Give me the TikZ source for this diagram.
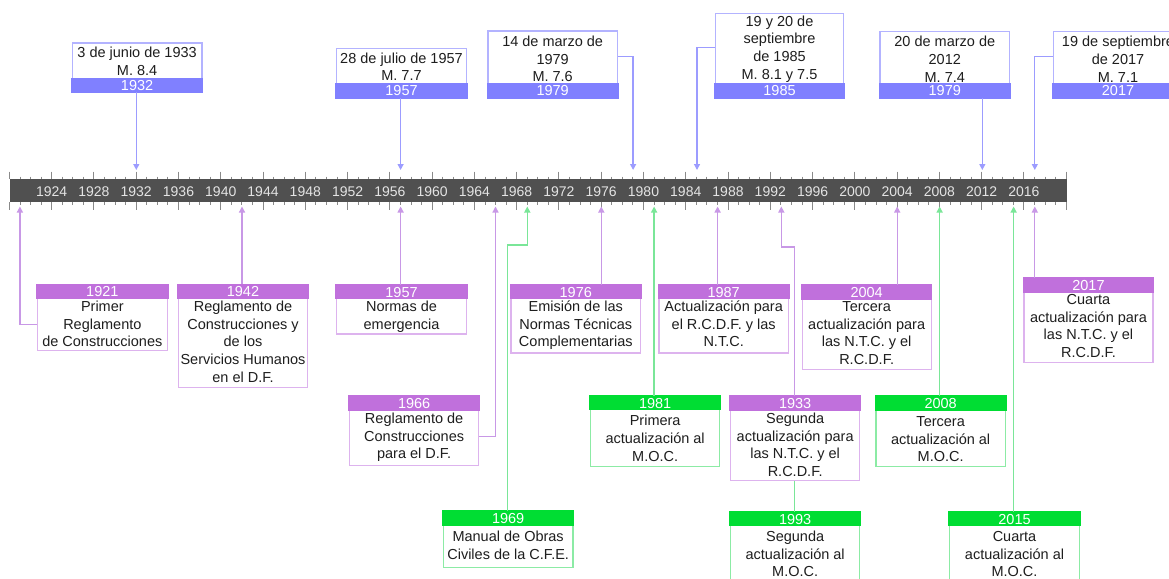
\documentclass[tikz,border=0pt]{standalone}
\usepackage{fontspec}
\setmainfont{Liberation Sans}
\usetikzlibrary{arrows.meta,calc}
\definecolor{barc}{HTML}{505050}
\definecolor{tickc}{HTML}{8A8A8A}
\definecolor{axtxtc}{HTML}{E4E4E4}
\definecolor{bluband}{HTML}{8080FF}
\definecolor{bluborder}{HTML}{B3B3FF}
\definecolor{bluline}{HTML}{9C9CFF}
\definecolor{purband}{HTML}{C070DC}
\definecolor{purborder}{HTML}{DDB3EE}
\definecolor{purline}{HTML}{C898E6}
\definecolor{grnband}{HTML}{00DD33}
\definecolor{grnborder}{HTML}{8CEBA5}
\definecolor{grnline}{HTML}{7AE698}
\definecolor{bodyc}{HTML}{1E1E1E}
\newcommand\evbot[9]{%
  \node[box#6, minimum width={#3-#2}, minimum height={#5-#4}, anchor=north west] (#1) at (#2,#4) {};
  \fill[band#6] ([shift={(-0.65,-0.65)}]#1.north west) rectangle ([shift={(0.65,14.6)}]#1.north east);
  \node[bandtxt, anchor=base] (#1-yr) at ([shift={(0,12.4)}]#1.north) {#7};
  \foreach \tl [count=\i] in {#8} {\node[bodytxt, anchor=base] (#1-l\i) at ([shift={(0,{#9-#4+(\i-1)*17.8})}]#1.north) {\tl};}
}
\newcommand\evtop[8]{%
  \node[boxblu, minimum width={#3-#2}, minimum height={#5-#4}, anchor=north west] (#1) at (#2,#4) {};
  \foreach \tl [count=\i] in {#7} {\node[bodytxt, anchor=base] (#1-l\i) at ([shift={(0,{#8-#4+(\i-1)*17.8})}]#1.north) {\tl};}
  \fill[bandblu] ([shift={(-0.65,-14.6)}]#1.south west) rectangle ([shift={(0.65,0.65)}]#1.south east);
  \node[bandtxt, anchor=base] (#1-yr) at ([shift={(0,-2.2)}]#1.south) {#6};
}
\begin{document}
\begin{tikzpicture}[x=1pt,y=-1pt,
  bodytxt/.style={font=\fontsize{14.5}{17.8}\selectfont, text=bodyc, inner sep=0pt},
  bandtxt/.style={font=\fontsize{14.5}{17.8}\selectfont, text=white, inner sep=0pt},
  axlabel/.style={font=\fontsize{14}{17}\selectfont, text=axtxtc, inner sep=0pt},
  boxblu/.style={draw=bluborder, line width=1.3pt, fill=white, inner sep=0pt},
  boxpur/.style={draw=purborder, line width=1.3pt, fill=white, inner sep=0pt},
  boxgrn/.style={draw=grnborder, line width=1.3pt, fill=white, inner sep=0pt},
  bandblu/.style={fill=bluband},
  bandpur/.style={fill=purband},
  bandgrn/.style={fill=grnband},
  lineblu/.style={draw=bluline, line width=1.3pt},
  linepur/.style={draw=purline, line width=1.3pt},
  linegrn/.style={draw=grnline, line width=1.3pt},
  arr/.style={-{Triangle[length=6pt,width=6pt]}},
  tickline/.style={draw=tickc, line width=0.9pt}
]
\useasboundingbox (0,0) rectangle (1169,578);
\clip (0,0) rectangle (1169,578);
\fill[white] (0,0) rectangle (1169,578);

% axis
\node[fill=barc, minimum width=1057.3, minimum height=23, inner sep=0pt, anchor=north west] (axis) at (9.4,179) {};
\foreach \k in {0,...,100} {
  \draw[tickline] ({9.4+\k*10.568},176.5) -- ({9.4+\k*10.568},179);
  \draw[tickline] ({9.4+\k*10.568},202) -- ({9.4+\k*10.568},204.8);
}
\foreach \k in {0,4,...,100} {
  \draw[tickline] ({9.4+\k*10.568},171.5) -- ({9.4+\k*10.568},179);
  \draw[tickline] ({9.4+\k*10.568},202) -- ({9.4+\k*10.568},209.5);
}
\foreach \k in {4,8,...,96} {
  \pgfmathtruncatemacro\yy{1920+\k}
  \node[axlabel, anchor=base] (yl\yy) at ({9.4+\k*10.568},196.2) {\yy};
}

% top boxes
\evtop{t1932}{71.7}{201.2}{42.3}{91}{1932}{3 de junio de 1933, M. 8.4}{57.9}
\evtop{t1957}{336}{465.7}{47.7}{96.7}{1957}{28 de julio de 1957, M. 7.7}{63.2}
\evtop{t1979}{487.3}{616.7}{30.3}{96.7}{1979}{14 de marzo de, 1979, M. 7.6}{46.2}
\evtop{t1985}{714.7}{843}{12.7}{96.7}{1985}{19 y 20 de, septiembre, de 1985, M. 8.1 y 7.5}{26.2}
\evtop{t2012}{879.3}{1009}{30.7}{96.7}{1979}{20 de marzo de, 2012, M. 7.4}{46.9}
\evtop{t2017}{1052.7}{1182}{30.7}{96.7}{2017}{19 de septiembre, de 2017, M. 7.1}{46.9}

% bottom boxes
\evbot{e1921}{36.7}{166.7}{284.3}{350}{pur}{1921}{Primer, Reglamento, de Construcciones}{311.2}
\evbot{e1942}{177.7}{307}{284.3}{386.7}{pur}{1942}{Reglamento de, Construcciones y, de los, Servicios Humanos, en el D.F.}{311.2}
\evbot{e1957}{336}{465.7}{284.7}{333.3}{pur}{1957}{Normas de, emergencia}{311.2}
\evbot{e1976}{510.3}{640}{284.7}{352.3}{pur}{1976}{Emisión de las, Normas Técnicas, Complementarias}{311.2}
\evbot{e1987}{658.3}{787.7}{284.7}{352.3}{pur}{1987}{Actualización para, el R.C.D.F. y las, N.T.C.}{311.2}
\evbot{e2004}{801.5}{930.5}{285}{368.5}{pur}{2004}{Tercera, actualización para, las N.T.C. y el, R.C.D.F.}{311.2}
\evbot{e2017}{1023.3}{1152.3}{278}{361.7}{pur}{2017}{Cuarta, actualización para, las N.T.C. y el, R.C.D.F.}{304.2}
\evbot{e1966}{349}{478}{396}{465}{pur}{1966}{Reglamento de, Construcciones, para el D.F.}{423.2}
\evbot{e1981}{590}{719}{395.7}{466}{grn}{1981}{Primera, actualización al, M.O.C.}{425.9}
\evbot{e1933}{730}{859}{396}{480}{pur}{1933}{Segunda, actualización para, las N.T.C. y el, R.C.D.F.}{423.2}
\evbot{e2008}{875.3}{1004.7}{396}{466}{grn}{2008}{Tercera, actualización al, M.O.C.}{426.2}
\evbot{e1969}{442.7}{572.3}{511}{566.7}{grn}{1969}{Manual de Obras, Civiles de la C.F.E.}{541.2}
\evbot{e1993}{730}{859}{511.7}{592}{grn}{1993}{Segunda, actualización al, M.O.C.}{541.2}
\evbot{e2015}{949}{1078.7}{511.7}{592}{grn}{2015}{Cuarta, actualización al, M.O.C.}{541.2}

% axis points and bends
\coordinate (p1932) at (136.3,170);
\coordinate (p1957) at (400.6,170);
\coordinate (p1979) at (633.1,170);
\coordinate (k1979) at (633.1,56.7);
\coordinate (p1985) at (697.0,170);
\coordinate (k1985) at (697.0,47.7);
\coordinate (p2012) at (982.3,170);
\coordinate (p2017) at (1034.8,170);
\coordinate (k2017) at (1034.8,56.7);

\coordinate (q1921) at (19.9,206.5);
\coordinate (k1921) at (19.9,324.3);
\coordinate (q1942) at (242.0,206.5);
\coordinate (q1957) at (400.6,206.5);
\coordinate (q1966) at (495.5,206.5);
\coordinate (k1966) at (495.5,436.7);
\coordinate (q1969) at (527.3,206.5);
\coordinate (k1969a) at (527.3,245);
\coordinate (k1969b) at (507.7,245);
\coordinate (q1976) at (601.3,206.5);
\coordinate (q1981) at (654.1,206.5);
\coordinate (q1987) at (717.6,206.5);
\coordinate (q1993) at (781.3,206.5);
\coordinate (k1993a) at (781.3,247);
\coordinate (k1993b) at (794.4,247);
\coordinate (q2004) at (897.2,206.5);
\coordinate (q2008) at (939.6,206.5);
\coordinate (q2015) at (1013.6,206.5);
\coordinate (q2017) at (1034.8,206.5);

% top connectors
\draw[lineblu,arr] (t1932.south -| p1932) -- (p1932);
\draw[lineblu,arr] (t1957.south -| p1957) -- (p1957);
\draw[lineblu,arr] (t1979.east |- k1979) -- (k1979) -- (p1979);
\draw[lineblu,arr] (t1985.west |- k1985) -- (k1985) -- (p1985);
\draw[lineblu,arr] (t2012.south -| p2012) -- (p2012);
\draw[lineblu,arr] (t2017.west |- k2017) -- (k2017) -- (p2017);

% bottom connectors
\draw[linepur,arr] (e1921.west |- k1921) -- (k1921) -- (q1921);
\draw[linepur,arr] (e1942.north -| q1942) -- (q1942);
\draw[linepur,arr] (e1957.north -| q1957) -- (q1957);
\draw[linepur,arr] (e1966.east |- k1966) -- (k1966) -- (q1966);
\draw[linegrn,arr] (e1969.north -| k1969b) -- (k1969b) -- (k1969a) -- (q1969);
\draw[linepur,arr] (e1976.north -| q1976) -- (q1976);
\draw[linegrn,arr] (e1981.north -| q1981) -- (q1981);
\draw[linepur,arr] (e1987.north -| q1987) -- (q1987);
\draw[linepur,arr] (e1933.north -| k1993b) -- (k1993b) -- (k1993a) -- (q1993);
\draw[linegrn] (e1933.south -| k1993b) -- (e1993.north -| k1993b);
\draw[linepur,arr] (e2004.north -| q2004) -- (q2004);
\draw[linegrn,arr] (e2008.north -| q2008) -- (q2008);
\draw[linegrn,arr] (e2015.north -| q2015) -- (q2015);
\draw[linepur,arr] (e2017.north -| q2017) -- (q2017);
\end{tikzpicture}
\end{document}
